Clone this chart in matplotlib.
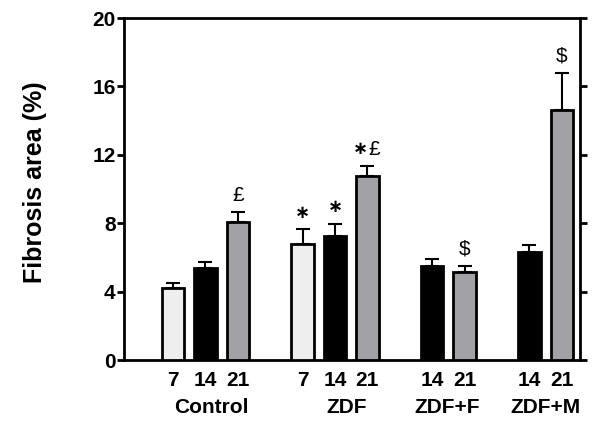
import matplotlib
matplotlib.use("Agg")
import matplotlib.pyplot as plt

plt.rcParams['font.family'] = ['Liberation Sans', 'DejaVu Sans']

groups = ["Control", "ZDF", "ZDF+F", "ZDF+M"]
days = ["7", "14", "21", "7", "14", "21", "14", "21", "14", "21"]
values = [4.2, 5.4, 8.05, 6.78, 7.27, 10.76, 5.48, 5.15, 6.32, 14.62]
errors = [0.32, 0.33, 0.58, 0.86, 0.70, 0.60, 0.44, 0.36, 0.42, 2.18]
annotations = ["", "", "£", "∗", "∗", "∗£", "", "$", "", "$"]
day_colors = {"7": "#eeeeee", "14": "#000000", "21": "#a2a2a6"}
positions = [0, 1, 2, 4, 5, 6, 8, 9, 11, 12]
group_centers = [1.17, 5.37, 8.46, 11.5]

fig = plt.figure(figsize=(6, 4.36), dpi=100)
ax = fig.add_axes([0.2067, 0.1743, 0.76, 0.7844])

colors = [day_colors[d] for d in days]
ax.bar(positions, values, width=0.69, color=colors, edgecolor="black",
       linewidth=2, zorder=3)
ax.errorbar(positions, values, yerr=[[0] * len(errors), errors], fmt="none",
            ecolor="black", elinewidth=1.5, capsize=5, capthick=1.5, zorder=2)

for p, v, e, a in zip(positions, values, errors, annotations):
    if not a:
        continue
    star = a.startswith("∗")
    rest = a[1:] if star else a
    both = star and rest
    if star:
        ax.annotate("∗", (p, v + e), xytext=(-5 if both else 0, 12),
                    textcoords="offset points", ha="center", va="center",
                    fontsize=13, fontweight="bold", family=['DejaVu Sans'])
    if rest:
        ax.annotate(rest, (p, v + e), xytext=(5 if both else 0, 12),
                    textcoords="offset points", ha="center", va="center",
                    fontsize=15)

ax.set_xlim(-1.51, 12.56)
ax.set_ylim(0, 20)
ax.set_yticks([0, 4, 8, 12, 16, 20])
ax.set_yticklabels(["0", "4", "8", "12", "16", "20"], fontsize=15,
                   fontweight="bold")
ax.set_xticks(positions)
ax.set_xticklabels(days, fontsize=15, fontweight="bold")
ax.tick_params(axis="x", length=0, pad=8)
ax.tick_params(axis="y", direction="out", length=5, width=2, right=True,
               pad=1)

for s in ax.spines.values():
    s.set_linewidth(2)

for g, c in zip(groups, group_centers):
    ax.text(c, -0.14, g, transform=ax.get_xaxis_transform(), ha="center",
            va="center", fontsize=15, fontweight="bold")

ax.set_ylabel("Fibrosis area (%)", fontsize=18, fontweight="bold")
ax.yaxis.set_label_coords(-0.168, 0.52)

fig.savefig("out.png", dpi=100)
